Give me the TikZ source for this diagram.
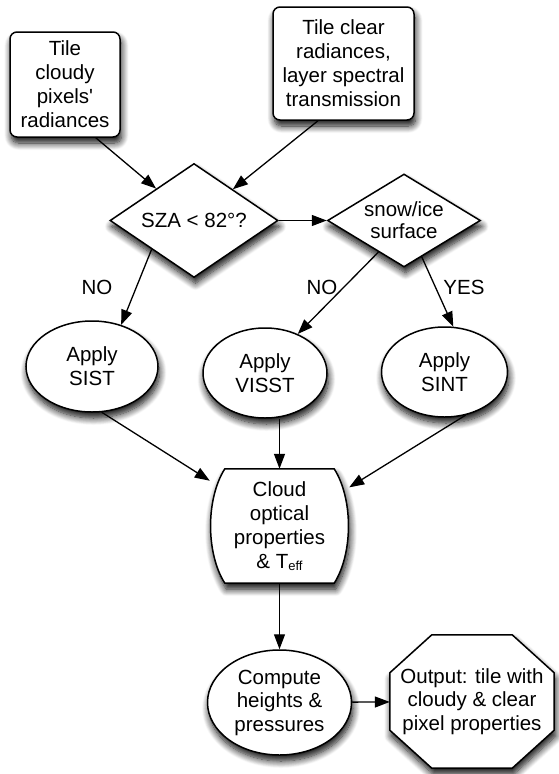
\documentclass[tikz,border=0pt]{standalone}
\usepackage{fontspec}
\setmainfont{Liberation Sans}
\usetikzlibrary{shapes.geometric,arrows.meta,shadows.blur,backgrounds}

\begin{document}
\begin{tikzpicture}[x=1pt, y=-1pt, font=\fontsize{20.5}{24}\selectfont,
        shadowed/.style={blur shadow={shadow xshift=1.5pt, shadow yshift=-6pt, shadow blur radius=7pt, shadow blur steps=10, shadow opacity=95}},
        tilebox/.style={draw, rectangle, rounded corners=7pt, fill=white, line width=1.5pt, align=center, inner sep=0pt, shadowed},
        decision/.style={draw, diamond, aspect=1.5, fill=white, line width=1.5pt, align=center, inner sep=0pt, shadowed},
        process/.style={draw, ellipse, fill=white, line width=1.5pt, align=center, inner sep=0pt, shadowed},
        textonly/.style={align=center, inner sep=0pt},
        outline/.style={line width=1.5pt, fill=white, shadowed},
        flow/.style={line width=1.3pt, -{Triangle[length=15pt, width=11pt]}}]
        \useasboundingbox (0,0) rectangle (559,774);

        \node[tilebox, minimum width=110pt, minimum height=105pt] (cloudy) at (65,84.5) {Tile\\cloudy\\pixels\textquotesingle\\radiances};
        \node[tilebox, minimum width=141pt, minimum height=113pt] (clear) at (343.5,63.5) {Tile clear\\radiances,\\layer spectral\\transmission};
        \node[decision, minimum width=168pt, minimum height=114pt] (sza) at (194,220.5) {SZA < 82°?};
        \node[decision, aspect=1.65, minimum width=153pt, minimum height=93pt, font=\fontsize{20.5}{22}\selectfont] (snow) at (404,220.5) {snow/ice\\surface};

        \node (nosist) at (97,287) {NO};
        \node (novisst) at (322,287) {NO};
        \node (yessint) at (464,287) {YES};

        \node[process, minimum width=132pt, minimum height=91pt] (sist) at (92,366.5) {Apply\\SIST};
        \node[process, minimum width=124pt, minimum height=90pt] (visst) at (265,373) {Apply\\VISST};
        \node[process, minimum width=126pt, minimum height=90pt] (sint) at (444.5,372) {Apply\\SINT};

        % bulged box and octagon are drawn behind their text
        \node[textonly, minimum width=139pt, minimum height=114pt] (cloud) at (279.5,526) {Cloud\\optical\\properties\\\& T{\fontsize{13}{13}\selectfont\raisebox{-1.5pt}{eff}}};
        \node[process, minimum width=144pt, minimum height=105pt, font=\fontsize{20.5}{23.5}\selectfont] (compute) at (279.5,702.5) {Compute\\heights \&\\pressures};
        \node[textonly, minimum width=164pt, minimum height=133pt, font=\fontsize{20.5}{23.5}\selectfont] (output) at (472,701.5) {Output: tile with\\cloudy \& clear\\pixel properties};
        \begin{scope}[on background layer]
            \draw[outline] ([xshift=15pt]cloud.north west) -- ([xshift=-15pt]cloud.north east)
                .. controls ([xshift=4pt, yshift=-30pt]cloud.north east) and ([xshift=4pt, yshift=30pt]cloud.south east) .. ([xshift=-15pt]cloud.south east)
                -- ([xshift=15pt]cloud.south west)
                .. controls ([xshift=-4pt, yshift=30pt]cloud.south west) and ([xshift=-4pt, yshift=-30pt]cloud.north west) .. cycle;
            \draw[outline] ([xshift=42pt]output.north west) -- ([xshift=-42pt]output.north east) -- ([yshift=-38pt]output.north east) -- ([yshift=38pt]output.south east) -- ([xshift=-42pt]output.south east) -- ([xshift=42pt]output.south west) -- ([yshift=38pt]output.south west) -- ([yshift=-38pt]output.north west) -- cycle;
        \end{scope}

        \draw[flow] (cloudy.-60) -- (sza);
        \draw[flow] (clear.-114) -- (sza);
        \draw[flow] (sza) -- (snow);
        \draw[flow] (sza.south west) -- (sist.55);
        \draw[flow] (snow.-129) -- (visst.50);
        \draw[flow] (snow.-64) -- (sint.79);
        \draw[flow] (sist.-78) -- (cloud.147);
        \draw[flow] (visst.south -| cloud.north) -- (cloud.north);
        \draw[flow] (sint.-64) -- (cloud.29);
        \draw[flow] (cloud) -- (compute);
        \draw[flow] (compute) -- (output);
    \end{tikzpicture}
\end{document}
